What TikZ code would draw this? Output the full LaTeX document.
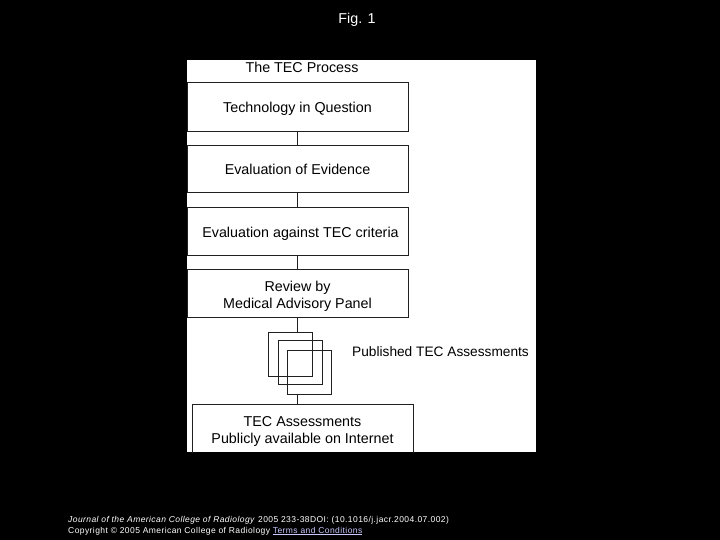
\documentclass[tikz,border=0pt]{standalone}
\usepackage{fontspec}
\setmainfont{Liberation Sans}
\newfontfamily\footfont[LetterSpace=5]{Liberation Sans}
\usetikzlibrary{calc}
\definecolor{linkcol}{HTML}{C8C8FF}
\definecolor{linecol}{HTML}{202020}
\newcommand{\lowered}[2]{\raisebox{-#1}[\height][\depth]{\begin{tabular}{@{}c@{}}#2\end{tabular}}}
\begin{document}
\begin{tikzpicture}[x=1bp,y=-1bp,
  stepbox/.style={draw=linecol,line width=0.9bp,minimum width=221bp,inner sep=0pt,align=center,font=\fontsize{14.3bp}{17bp}\selectfont},
  sq/.style={draw=linecol,line width=0.9bp,minimum width=44bp,minimum height=44bp,inner sep=0pt},
  conn/.style={draw=linecol,line width=0.9bp},
  lbl/.style={inner sep=0pt,font=\fontsize{14.3bp}{17bp}\selectfont},
  foot/.style={inner sep=0pt,anchor=base west,text=white,font=\footfont\fontsize{8.5bp}{10bp}\selectfont}]
\useasboundingbox (0,0) rectangle (720,540);
\fill[black] (0,0) rectangle (720,540);
\node[lbl,text=white] (fig) at (357,20) {Fig. 1};
\fill[white] (187,60) rectangle (536,452);
\begin{scope}
\clip (187,60) rectangle (536,452);
\node[lbl] (title) at (302,67) {The TEC Process};
\node[stepbox,minimum height=49bp] (b1) at (297.5,106.5) {\lowered{3bp}{Technology in Question}};
\node[stepbox,minimum height=47bp] (b2) at (297.5,168.5) {\lowered{3bp}{Evaluation of Evidence}};
\node[stepbox,minimum height=48bp] (b3) at (297.5,231) {\lowered{3bp}{\hspace*{6bp}Evaluation against TEC criteria}};
\node[stepbox,minimum height=48bp] (b4) at (297.5,293) {\lowered{4bp}{Review by\\Medical Advisory Panel}};
\node[sq] (s1) at (290.5,354) {};
\node[sq] (s2) at (300,362.5) {};
\node[sq] (s3) at (309.5,372.5) {};
\node[stepbox,minimum height=50bp] (b5) at (302.5,429) {\lowered{2.5bp}{TEC Assessments\\Publicly available on Internet}};
\node[lbl,anchor=west,font=\fontsize{13.7bp}{16bp}\selectfont] (pub) at (352,352) {Published TEC Assessments};
\draw[conn] (b1.south) -- (b2.north);
\draw[conn] (b2.south) -- (b3.north);
\draw[conn] (b3.south) -- (b4.north);
\draw[conn] (b4.south) -- (b4.south |- s1.north);
\draw[conn] (b4.south |- s3.south) -- (b4.south |- b5.north);
\end{scope}
\node[foot] (f1) at (68,522) {\textit{Journal of the American College of Radiology} 2005 233-38DOI: (10.1016/j.jacr.2004.07.002)};
\node[foot] (f2) at (68,533) {Copyright © 2005 American College of Radiology \textcolor{linkcol}{\underline{Terms and Conditions}}};
\end{tikzpicture}
\end{document}
